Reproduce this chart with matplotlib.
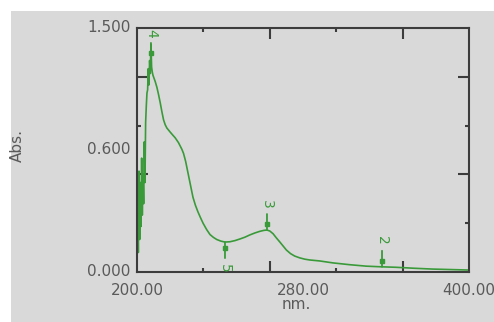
import numpy as np
import matplotlib.pyplot as plt
from matplotlib.patches import Rectangle
from matplotlib.transforms import offset_copy

# spectrum
wavelength_nm = [200.0, 200.4, 200.8, 201.2, 201.6, 202.0, 202.4, 202.8, 203.2, 203.6,
                 204.0, 204.4, 204.8, 205.2, 205.6, 206.0, 206.4, 206.8, 207.2, 207.6,
                 208.0, 208.4, 208.8, 209.2, 209.6, 211.0, 212.0, 213.0, 214.0, 215.0,
                 216.0, 217.0, 218.0, 220.0, 221.7, 223.0, 224.0, 225.0, 226.0, 227.0,
                 228.0, 229.3, 230.7, 232.2, 233.7, 235.2, 236.7, 238.2, 239.8, 242.0,
                 244.0, 246.0, 248.0, 250.5, 253.0, 256.0, 259.0, 262.0, 265.0, 268.0,
                 271.0, 274.0, 276.5, 278.3, 280.0, 282.0, 284.0, 286.0, 288.0, 290.0,
                 292.5, 295.0, 298.0, 301.0, 304.0, 310.0, 318.0, 328.0, 338.0, 347.0,
                 356.0, 367.0, 378.0, 389.0, 400.0]
absorbance = [0.06, 0.45, 0.12, 0.62, 0.20, 0.55, 0.28, 0.70, 0.35, 0.60,
              0.42, 0.80, 0.55, 0.92, 1.02, 1.10, 1.12, 1.25, 1.15, 1.30,
              1.22, 1.40, 1.26, 1.23, 1.21, 1.17, 1.135, 1.09, 1.04, 0.985,
              0.935, 0.905, 0.885, 0.86, 0.84, 0.825, 0.81, 0.795, 0.775, 0.755,
              0.73, 0.68, 0.61, 0.535, 0.46, 0.41, 0.37, 0.335, 0.30, 0.26,
              0.23, 0.213, 0.20, 0.19, 0.184, 0.186, 0.193, 0.203, 0.214, 0.228,
              0.240, 0.250, 0.256, 0.258, 0.252, 0.235, 0.209, 0.185, 0.16, 0.135,
              0.113, 0.098, 0.087, 0.079, 0.074, 0.068, 0.056, 0.045, 0.036, 0.032,
              0.029, 0.023, 0.018, 0.015, 0.012]

# picked peaks / valleys
pick_labels = ["4", "3", "5", "2"]
pick_nm = [208.4, 278.3, 253.0, 347.6]
pick_abs = [1.31, 0.258, 0.184, 0.032]
pick_is_peak = [True, True, False, True]

x_tick_labels = ["200.00", "280.00", "400.00"]
y_tick_labels = ["0.000", "0.600", "1.500"]

GREEN = "#3a9a3a"
GRAY_BG = "#d9d9d9"
TXT = "#5a5a5a"
SPINE = "#3c3c3c"

fig = plt.figure(figsize=(4.94, 3.22), dpi=100, facecolor="white")
fig.patches.append(Rectangle((11 / 494, 0), 1, 1 - 11 / 322, transform=fig.transFigure,
                             facecolor=GRAY_BG, edgecolor="none", zorder=-10))

ax = fig.add_axes([137 / 494, 50 / 322, 332 / 494, 244 / 322])
ax.set_facecolor(GRAY_BG)
ax.set_xlim(200, 400)
ax.set_ylim(0, 1.5)

ax.plot(wavelength_nm, absorbance, color=GREEN, lw=1.2)

for lab, x, y, up in zip(pick_labels, pick_nm, pick_abs, pick_is_peak):
    s = 1 if up else -1
    ax.annotate("", xy=(x, y), xytext=(0, s * 16), textcoords="offset pixels",
                arrowprops=dict(arrowstyle="-", color=GREEN, lw=1.3, shrinkA=0, shrinkB=0))
    tr = offset_copy(ax.transData, fig=fig, x=0, y=s * 6, units="dots")
    ax.plot([x], [y], "s", color=GREEN, ms=3.5, transform=tr)
    ax.annotate(lab, xy=(x, y), xytext=(0, s * 26), textcoords="offset pixels",
                ha="center", va="center", rotation=-90, color=GREEN, fontsize=10)

for sp in ax.spines.values():
    sp.set_color(SPINE)
    sp.set_linewidth(1.5)

ax.set_xticks([280, 360])
ax.set_xticks([240, 320], minor=True)
ax.set_yticks([0.6, 1.2])
ax.set_yticks([0.3, 0.9], minor=True)
ax.tick_params(which="both", direction="in", top=True, right=True, color=SPINE,
               labelbottom=False, labelleft=False)
ax.tick_params(which="major", length=8, width=1.5)
ax.tick_params(which="minor", length=3, width=1.5)

# the instrument puts its labels at the ends and at the middle of each axis
for frac, lab in zip([0.0, 0.5, 1.0], x_tick_labels):
    ax.text(frac, -0.075, lab, transform=ax.transAxes, ha="center", va="center",
            color=TXT, fontsize=11)
for frac, lab in zip([0.0, 0.5, 1.0], y_tick_labels):
    ax.text(-0.02, frac, lab, transform=ax.transAxes, ha="right", va="center",
            color=TXT, fontsize=11)

ax.text(0.48, -0.135, "nm.", transform=ax.transAxes, ha="center", va="center",
        color=TXT, fontsize=11)
ax.text(-0.36, 0.52, "Abs.", transform=ax.transAxes, ha="center", va="center",
        rotation=90, color=TXT, fontsize=11)

fig.savefig("out.png", dpi=100, facecolor=fig.get_facecolor())
